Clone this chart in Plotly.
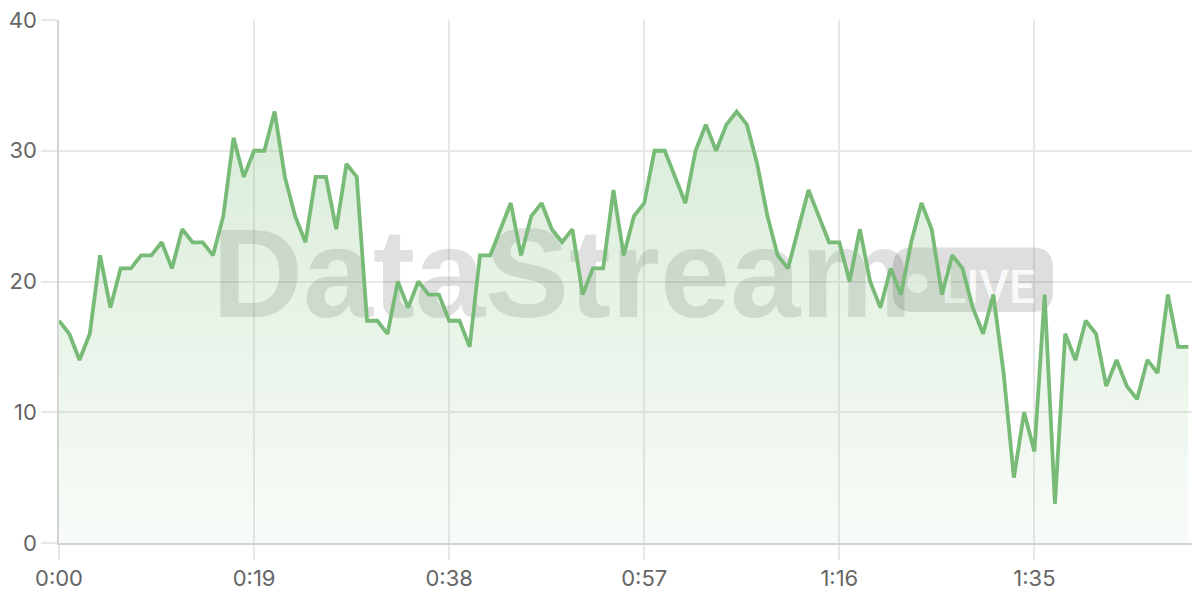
import plotly.graph_objects as go

# samples, one per second
seconds = list(range(111))
values = [17, 16, 14, 16, 22, 18, 21, 21, 22, 22,
          23, 21, 24, 23, 23, 22, 25, 31, 28, 30,
          30, 33, 28, 25, 23, 28, 28, 24, 29, 28,
          17, 17, 16, 20, 18, 20, 19, 19, 17, 17,
          15, 22, 22, 24, 26, 22, 25, 26, 24, 23,
          24, 19, 21, 21, 27, 22, 25, 26, 30, 30,
          28, 26, 30, 32, 30, 32, 33, 32, 29, 25,
          22, 21, 24, 27, 25, 23, 23, 20, 24, 20,
          18, 21, 19, 23, 26, 24, 19, 22, 21, 18,
          16, 19, 13, 5, 10, 7, 19, 3, 16, 14,
          17, 16, 12, 14, 12, 11, 14, 13, 19, 15, 15]

tick_seconds = [0, 19, 38, 57, 76, 95]
tick_labels = ["0:00", "0:19", "0:38", "0:57", "1:16", "1:35"]
y_ticks = [0, 10, 20, 30, 40]

GREEN = "#77bb77"
GRID = "#e8e8e8"


def rounded_rect(x0, x1, y0, y1, rx, ry):
    # path for a rounded rectangle in data coords
    return (f"M {x0+rx},{y0} L {x1-rx},{y0} Q {x1},{y0} {x1},{y0+ry} "
            f"L {x1},{y1-ry} Q {x1},{y1} {x1-rx},{y1} "
            f"L {x0+rx},{y1} Q {x0},{y1} {x0},{y1-ry} "
            f"L {x0},{y0+ry} Q {x0},{y0} {x0+rx},{y0} Z")


fig = go.Figure()
fig.add_trace(go.Scatter(
    x=seconds, y=values, mode="lines",
    line=dict(color=GREEN, width=3.8),
    fill="tozeroy",
    fillgradient=dict(type="vertical", start=0, stop=33,
                      colorscale=[[0, "rgba(119,187,119,0.05)"],
                                  [1, "rgba(119,187,119,0.28)"]]),
    hoverinfo="skip", showlegend=False,
))

# watermark, drawn under the data
fig.add_shape(type="rect", x0=13, x1=85, y0=17.83, y1=25.23, layer="between",
              line=dict(width=0), fillcolor="rgba(0,0,0,0)",
              label=dict(text="<b>DataStream</b>", textposition="middle center",
                         font=dict(family="Liberation Sans", size=126,
                                   color="rgba(60,60,60,0.16)")))
fig.add_shape(type="path", path=rounded_rect(81.2, 96.8, 17.67, 22.6, 1.95, 1.53),
              layer="between", line=dict(width=0), fillcolor="rgba(0,0,0,0.13)")
fig.add_shape(type="circle", x0=82.6, x1=84.6, y0=19.1, y1=20.62, layer="between",
              line=dict(width=0), fillcolor="rgba(255,255,255,0.75)")
fig.add_shape(type="rect", x0=86.2, x1=94.8, y0=17.6, y1=22.0, layer="between",
              line=dict(width=0), fillcolor="rgba(0,0,0,0)",
              label=dict(text="LIVE", textposition="middle center",
                         font=dict(family="Roboto", size=46, weight=500,
                                   color="rgba(255,255,255,0.85)")))

# page body has an 8px margin; keep the figure inside the 1200x600 window
fig.update_layout(
    width=1184, height=584,
    margin=dict(l=51, r=0, t=12, b=49),
    paper_bgcolor="white", plot_bgcolor="white",
    font=dict(family="Inter", size=22, color="#666666"),
)
fig.update_xaxes(range=[0, 110.35], tickvals=tick_seconds, ticktext=tick_labels,
                 automargin=False, ticklabeloverflow="allow",
                 showgrid=True, gridcolor=GRID, gridwidth=1.5,
                 showline=True, linecolor="#d4d4d4", linewidth=1.5,
                 ticks="outside", ticklen=15, tickcolor=GRID, tickwidth=1.5,
                 zeroline=False)
fig.update_yaxes(range=[0, 40], tickvals=y_ticks, automargin=False,
                 ticklabeloverflow="allow",
                 showgrid=True, gridcolor=GRID, gridwidth=1.5,
                 showline=True, linecolor="#d4d4d4", linewidth=1.5,
                 ticks="outside", ticklen=16, tickcolor=GRID, tickwidth=1.5,
                 zeroline=False)

fig.write_html("out.html")
